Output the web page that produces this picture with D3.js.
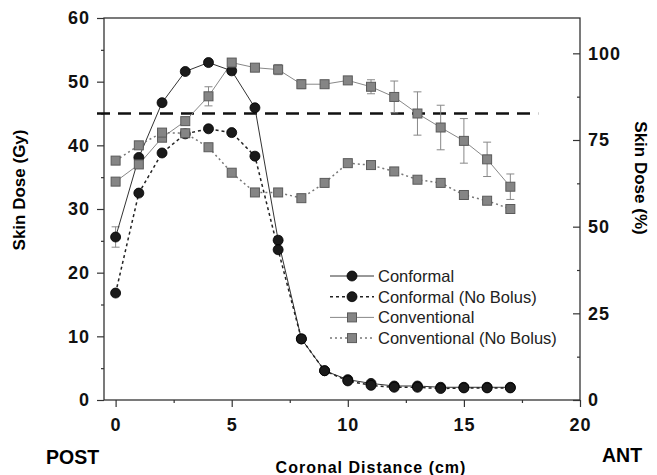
<!DOCTYPE html>
<html>
<head>
<meta charset="utf-8">
<script src="https://cdn.jsdelivr.net/npm/d3@7"></script>
<style>
body { margin: 0; background: #fff; }
svg { font-family: "Liberation Sans", Arial, sans-serif; }
</style>
</head>
<body>
<div id="chart"></div>
<script>
// Data
var xs = [0, 1, 2, 3, 4, 5, 6, 7, 8, 9, 10, 11, 12, 13, 14, 15, 16, 17];
var conformal = [25.6, 38.1, 46.7, 51.6, 53.0, 51.7, 45.9, 25.1, 9.6, 4.6, 3.2, 2.6, 2.2, 2.2, 2.0, 2.0, 2.0, 2.0];
var conformalErr = [1.6, 0.4, 0.4, 0.4, 0.5, 0.5, 0.4, 0.6, 0.6, 0.2, 0.2, 0.2, 0.1, 0.1, 0.1, 0.1, 0.1, 0.1];
var conformalNB = [16.8, 32.5, 38.8, 41.8, 42.6, 42.0, 38.3, 23.6, 9.6, 4.6, 3.0, 2.3, 2.0, 2.0, 1.8, 1.9, 1.9, 1.9];
var conventional = [34.3, 37.0, 41.2, 43.8, 47.7, 53.0, 52.2, 51.9, 49.6, 49.6, 50.2, 49.2, 47.6, 45.0, 42.8, 40.7, 37.8, 33.5];
var conventionalErr = [0.3, 0.4, 0.5, 0.6, 1.5, 0.4, 0.3, 0.8, 0.7, 0.3, 0.3, 1.1, 2.5, 3.4, 3.5, 3.5, 2.7, 2.0];
var conventionalNB = [37.6, 40.0, 42.0, 41.9, 39.7, 35.7, 32.6, 32.6, 31.7, 34.1, 37.2, 36.9, 35.9, 34.6, 34.1, 32.2, 31.3, 30.0];
var threshold = 45;
var legendNames = ["Conformal", "Conformal (No Bolus)", "Conventional", "Conventional (No Bolus)"];
var xTicks = [0, 5, 10, 15, 20];
var yTicks = [0, 10, 20, 30, 40, 50, 60];
var pctTicks = [0, 25, 50, 75, 100];
var prescribed = 54.45; // Gy equal to 100 %

var width = 657, height = 475;
var margin = {left: 104, right: 77, top: 18, bottom: 75};

var svg = d3.select("#chart").append("svg")
	.attr("width", width)
	.attr("height", height);

var x = d3.scaleLinear().domain([-0.5, 20]).range([margin.left, width - margin.right]);
var y = d3.scaleLinear().domain([0, 60]).range([height - margin.bottom, margin.top]);
var yPct = d3.scaleLinear().domain([0, 60 / prescribed * 100]).range([height - margin.bottom, margin.top]);

// frame
svg.append("rect")
	.attr("x", margin.left).attr("y", margin.top)
	.attr("width", x.range()[1] - margin.left)
	.attr("height", y.range()[0] - margin.top)
	.attr("fill", "none").attr("stroke", "#333").attr("stroke-width", 1.3);

// axes: major ticks longer than minor ones
function styleAxis(g, majors, major, minor, dir) {
	g.selectAll("text").attr("font-size", 18).attr("font-weight", "bold")
		.attr("fill", "#111").attr("letter-spacing", 1);
	g.selectAll("line").attr("stroke", "#333").attr("stroke-width", 1.2);
	g.select(".domain").remove();
	g.selectAll(".tick").each(function(d) {
		var len = majors.indexOf(d) >= 0 ? major : minor;
		var ln = d3.select(this).select("line");
		if (dir === "x") ln.attr("y2", len);
		else ln.attr("x2", dir * len);
	});
}

svg.append("g")
	.attr("transform", "translate(0," + y.range()[0] + ")")
	.call(d3.axisBottom(x).tickValues(d3.range(0, 20.1, 2.5)).tickSize(7).tickPadding(11)
		.tickFormat(function(d) { return xTicks.indexOf(d) >= 0 ? d : ""; }))
	.call(styleAxis, xTicks, 7, 3, "x");

svg.append("g")
	.attr("transform", "translate(" + margin.left + ",0)")
	.call(d3.axisLeft(y).tickValues(d3.range(0, 60.1, 5)).tickSize(7).tickPadding(7)
		.tickFormat(function(d) { return yTicks.indexOf(d) >= 0 ? d : ""; }))
	.call(styleAxis, yTicks, 7, 3, -1);

svg.append("g")
	.attr("transform", "translate(" + x.range()[1] + ",0)")
	.call(d3.axisRight(yPct).tickValues(d3.range(0, 110, 12.5)).tickSize(0).tickPadding(8)
		.tickFormat(function(d) { return pctTicks.indexOf(d) >= 0 ? d : ""; }))
	.call(styleAxis, pctTicks, 7, 3, -1);

// labels
svg.append("text")
	.attr("transform", "translate(25,190) rotate(-90)")
	.attr("text-anchor", "middle")
	.attr("font-size", 17).attr("font-weight", "bold")
	.text("Skin Dose (Gy)");

svg.append("text")
	.attr("transform", "translate(635,178) rotate(90)")
	.attr("text-anchor", "middle")
	.attr("font-size", 17).attr("font-weight", "bold")
	.text("Skin Dose (%)");

svg.append("text")
	.attr("x", 371).attr("y", 473)
	.attr("text-anchor", "middle")
	.attr("font-size", 16).attr("font-weight", "bold")
	.attr("letter-spacing", 1)
	.text("Coronal Distance (cm)");

svg.append("text")
	.attr("x", 46).attr("y", 464)
	.attr("font-size", 19.5).attr("font-weight", "bold")
	.text("POST");

svg.append("text")
	.attr("x", 602).attr("y", 462)
	.attr("font-size", 19.5).attr("font-weight", "bold")
	.text("ANT");

// threshold line
svg.append("line")
	.attr("x1", margin.left - 7).attr("x2", x(18.2))
	.attr("y1", y(threshold)).attr("y2", y(threshold))
	.attr("stroke", "#111").attr("stroke-width", 2.5)
	.attr("stroke-dasharray", "13,8");

var line = d3.line().x(function(d) { return x(d[0]); }).y(function(d) { return y(d[1]); });

var series = [
	{vals: conformal, err: conformalErr, color: "#333", dash: null, marker: "circle"},
	{vals: conformalNB, err: null, color: "#222", dash: "3,3", marker: "circle"},
	{vals: conventional, err: conventionalErr, color: "#888", dash: null, marker: "square"},
	{vals: conventionalNB, err: null, color: "#777", dash: "2,3", marker: "square"}
];

function drawMarker(g, type, cx, cy) {
	if (type === "circle") {
		g.append("circle").attr("cx", cx).attr("cy", cy).attr("r", 5)
			.attr("fill", "#1a1a1a").attr("stroke", "#000").attr("stroke-width", 0.8);
	} else {
		g.append("rect").attr("x", cx - 4.5).attr("y", cy - 4.5).attr("width", 9).attr("height", 9)
			.attr("fill", "#858585").attr("stroke", "#5a5a5a").attr("stroke-width", 1);
	}
}

// error bars first
series.forEach(function(s) {
	if (!s.err) return;
	var eg = svg.append("g").attr("stroke", "#888").attr("stroke-width", 1);
	xs.forEach(function(xv, i) {
		var lo = y(s.vals[i] - s.err[i]), hi = y(s.vals[i] + s.err[i]);
		eg.append("line").attr("x1", x(xv)).attr("x2", x(xv)).attr("y1", lo).attr("y2", hi);
		eg.append("line").attr("x1", x(xv) - 4).attr("x2", x(xv) + 4).attr("y1", lo).attr("y2", lo);
		eg.append("line").attr("x1", x(xv) - 4).attr("x2", x(xv) + 4).attr("y1", hi).attr("y2", hi);
	});
});

series.forEach(function(s) {
	var pts = xs.map(function(xv, i) { return [xv, s.vals[i]]; });
	svg.append("path")
		.datum(pts)
		.attr("d", line)
		.attr("fill", "none")
		.attr("stroke", s.color)
		.attr("stroke-width", s.dash ? 1.5 : 1)
		.attr("stroke-dasharray", s.dash);
});

series.forEach(function(s) {
	var mg = svg.append("g");
	xs.forEach(function(xv, i) { drawMarker(mg, s.marker, x(xv), y(s.vals[i])); });
});

// legend
var legend = svg.append("g").attr("transform", "translate(330,276)");
series.forEach(function(s, i) {
	var ly = i * 20.7;
	legend.append("line")
		.attr("x1", 0).attr("x2", 44).attr("y1", ly).attr("y2", ly)
		.attr("stroke", s.color).attr("stroke-width", s.dash ? 1.5 : 1)
		.attr("stroke-dasharray", s.dash);
	drawMarker(legend, s.marker, 22, ly);
	legend.append("text")
		.attr("x", 48).attr("y", ly + 6)
		.attr("font-size", 16.5).attr("fill", "#222")
		.text(legendNames[i]);
});
</script>
</body>
</html>
